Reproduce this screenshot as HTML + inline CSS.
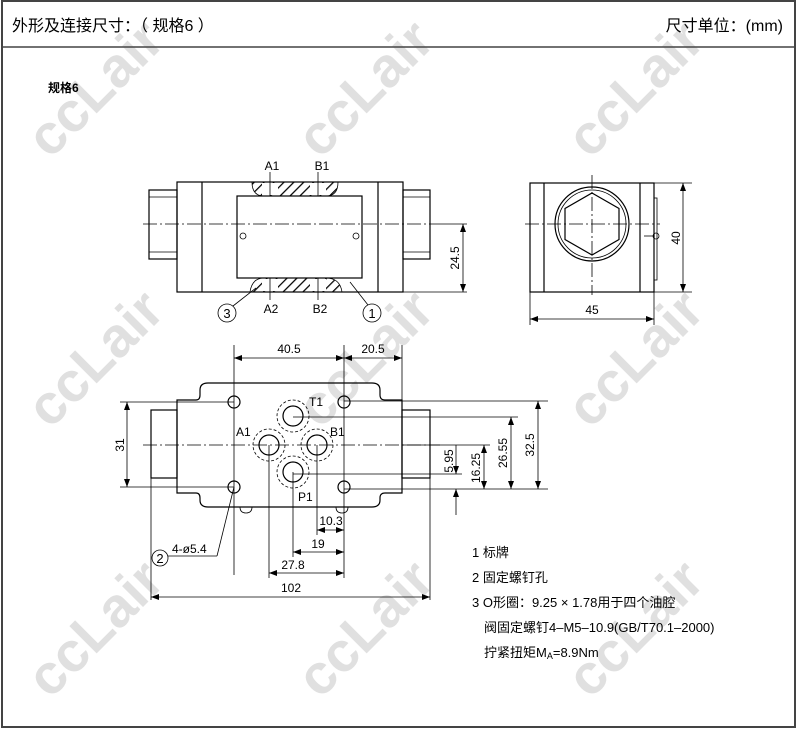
<!DOCTYPE html>
<html><head><meta charset="utf-8"><style>
body{margin:0;background:#fff;}
svg{display:block;}
text{font-family:"Liberation Sans","Noto Sans CJK SC",sans-serif;}
.wm{font-family:"Liberation Sans",sans-serif;font-weight:bold;font-size:56px;fill:#e0e0e0;}
.l{stroke:#000;stroke-width:1.2;fill:none;}
.t{stroke:#000;stroke-width:0.8;fill:none;}
.c{stroke:#000;stroke-width:0.8;fill:none;stroke-dasharray:14 3 2 3;}
.d{stroke:#000;stroke-width:0.8;fill:none;stroke-dasharray:3 2;}
.n{font-family:"Liberation Sans Narrow","Liberation Sans",sans-serif;font-size:12px;}
</style></head><body>
<svg width="800" height="730" viewBox="0 0 800 730" xmlns="http://www.w3.org/2000/svg">
<defs>
<marker id="a" markerWidth="8" markerHeight="6" refX="8" refY="3" orient="auto-start-reverse" markerUnits="userSpaceOnUse"><path d="M0,0 L8,3 L0,6 z" fill="#000"/></marker>
<pattern id="h" width="7" height="7" patternUnits="userSpaceOnUse" patternTransform="rotate(45)"><line x1="0" y1="0" x2="0" y2="7" stroke="#000" stroke-width="2.5"/></pattern>
</defs>
<g class="wm">
<text transform="translate(50,160) rotate(-45)">ccLair</text>
<text transform="translate(320,160) rotate(-45)">ccLair</text>
<text transform="translate(590,160) rotate(-45)">ccLair</text>
<text transform="translate(50,430) rotate(-45)">ccLair</text>
<text transform="translate(320,430) rotate(-45)">ccLair</text>
<text transform="translate(590,430) rotate(-45)">ccLair</text>
<text transform="translate(50,700) rotate(-45)">ccLair</text>
<text transform="translate(320,700) rotate(-45)">ccLair</text>
<text transform="translate(590,700) rotate(-45)">ccLair</text>
</g>
<rect x="2" y="1" width="793" height="726" fill="none" stroke="#444" stroke-width="2"/>
<line x1="2" y1="47" x2="795" y2="47" stroke="#444" stroke-width="1.5"/>
<text x="12" y="31" font-size="16">外形及连接尺寸：（ 规格6 ）</text>
<text x="783" y="31" font-size="16" text-anchor="end">尺寸单位：(mm)</text>
<text x="48" y="92" font-size="12" font-weight="bold">规格6</text>

<!-- TOP VIEW -->
<rect x="149" y="190" width="28" height="69" class="l"/>
<line x1="149" y1="197" x2="177" y2="197" class="t"/><line x1="149" y1="252" x2="177" y2="252" class="t"/>
<rect x="403" y="190" width="27" height="69" class="l"/>
<line x1="403" y1="197" x2="430" y2="197" class="t"/><line x1="403" y1="252" x2="430" y2="252" class="t"/>
<rect x="177" y="182" width="226" height="110" class="l"/>
<line x1="202" y1="182" x2="202" y2="292" class="l"/>
<line x1="378" y1="182" x2="378" y2="292" class="l"/>
<path d="M252,182 Q252,196 264,196 L326,196 Q338,196 338,182 Z" style="fill:url(#h);stroke:#000;stroke-width:0.8"/>
<rect x="262" y="183" width="16" height="12" fill="#fff"/>
<rect x="310" y="183" width="16" height="12" fill="#fff"/>
<path d="M250,292 Q252,278 264,278 L326,278 Q340,278 342,292 Z" style="fill:url(#h);stroke:#000;stroke-width:0.8"/>
<rect x="262" y="279" width="16" height="12" fill="#fff"/>
<rect x="310" y="279" width="16" height="12" fill="#fff"/>
<rect x="237" y="196" width="125" height="82" fill="#fff" stroke="#000" stroke-width="1.2"/>
<circle cx="243" cy="236" r="3" class="t"/><circle cx="356" cy="236" r="3" class="t"/>
<line x1="143" y1="224" x2="440" y2="224" class="c"/>
<line x1="270" y1="172" x2="270" y2="196" class="t"/><line x1="318" y1="172" x2="318" y2="196" class="t"/>
<line x1="270" y1="278" x2="270" y2="300" class="t"/><line x1="318" y1="278" x2="318" y2="300" class="t"/>
<text x="272" y="170" class="n" text-anchor="middle">A1</text>
<text x="322" y="170" class="n" text-anchor="middle">B1</text>
<text x="271" y="313" class="n" text-anchor="middle">A2</text>
<text x="320" y="313" class="n" text-anchor="middle">B2</text>
<line x1="440" y1="224" x2="467" y2="224" class="t"/><line x1="403" y1="292" x2="467" y2="292" class="t"/>
<line x1="463" y1="224" x2="463" y2="292" class="t" marker-start="url(#a)" marker-end="url(#a)"/>
<text transform="translate(459,258) rotate(-90)" class="n" text-anchor="middle">24.5</text>
<circle cx="227" cy="313" r="9" class="t"/><text x="227" y="318" font-size="13" text-anchor="middle">3</text>
<line x1="233" y1="306" x2="256" y2="288" class="t"/>
<circle cx="372" cy="313" r="9" class="t"/><text x="372" y="318" font-size="13" text-anchor="middle">1</text>
<line x1="368" y1="305" x2="350" y2="282" class="t"/>

<!-- SIDE VIEW -->
<rect x="530" y="183" width="124" height="109" class="l"/>
<line x1="544" y1="183" x2="544" y2="292" class="l"/><line x1="640" y1="183" x2="640" y2="292" class="l"/>
<circle cx="592" cy="224" r="37" class="l"/><circle cx="592" cy="224" r="34" class="t"/>
<polygon points="592,193 619,208.5 619,239.5 592,255 565,239.5 565,208.5" class="l"/>
<line x1="592" y1="175" x2="592" y2="295" class="c"/>
<line x1="525" y1="224" x2="660" y2="224" class="c"/>
<rect x="654" y="198" width="3" height="82" class="t"/>
<circle cx="656" cy="236" r="3" class="t"/>
<line x1="644" y1="236" x2="654" y2="236" class="t"/>
<line x1="654" y1="183" x2="692" y2="183" class="t"/><line x1="654" y1="292" x2="692" y2="292" class="t"/>
<line x1="683" y1="183" x2="683" y2="292" class="t" marker-start="url(#a)" marker-end="url(#a)"/>
<text transform="translate(680,238) rotate(-90)" class="n" font-size="14" text-anchor="middle">40</text>
<line x1="530" y1="292" x2="530" y2="325" class="t"/><line x1="654" y1="292" x2="654" y2="325" class="t"/>
<line x1="530" y1="319" x2="654" y2="319" class="t" marker-start="url(#a)" marker-end="url(#a)"/>
<text x="592" y="314" class="n" font-size="14" text-anchor="middle">45</text>

<!-- BOTTOM VIEW -->
<rect x="151" y="410" width="26" height="68" class="l"/>
<rect x="402" y="410" width="28" height="68" class="l"/>
<path d="M177,400 L196,400 Q200,400 200,395 L200,390 Q200,383 208,383 L372,383 Q380,383 380,390 L380,395 Q380,400 385,400 L402,400 L402,493 L385,493 Q380,493 380,498 L380,500 Q380,507 372,507 L208,507 Q200,507 200,500 L200,498 Q200,493 196,493 L177,493 Z" class="l"/>
<path d="M240,507 Q240,513 246,513 Q252,513 252,507" class="t"/>
<path d="M336,507 Q336,513 342,513 Q348,513 348,507" class="t"/>
<line x1="143" y1="445" x2="440" y2="445" class="c"/>
<g class="l">
<circle cx="234" cy="402" r="6"/><circle cx="344" cy="402" r="6"/>
<circle cx="234" cy="487" r="6"/><circle cx="344" cy="487" r="6"/>
<circle cx="293" cy="416" r="10"/><circle cx="269" cy="445" r="10"/>
<circle cx="317" cy="445" r="10"/><circle cx="293" cy="472" r="10"/>
</g>
<g class="d">
<circle cx="293" cy="416" r="16"/><circle cx="269" cy="445" r="16"/>
<circle cx="317" cy="445" r="16"/><circle cx="293" cy="472" r="16"/>
</g>
<text x="309" y="406" class="n" font-size="14">T1</text>
<text x="236" y="436" class="n" font-size="14">A1</text>
<text x="330" y="436" class="n" font-size="14">B1</text>
<text x="298" y="501" class="n" font-size="14">P1</text>
<line x1="234" y1="345" x2="234" y2="575" class="t"/>
<line x1="344" y1="345" x2="344" y2="578" class="t"/>
<line x1="402" y1="345" x2="402" y2="400" class="t"/>
<line x1="234" y1="358" x2="344" y2="358" class="t" marker-start="url(#a)" marker-end="url(#a)"/>
<line x1="344" y1="358" x2="402" y2="358" class="t" marker-start="url(#a)" marker-end="url(#a)"/>
<text x="289" y="353" class="n" text-anchor="middle">40.5</text>
<text x="373" y="353" class="n" text-anchor="middle">20.5</text>
<line x1="120" y1="402" x2="234" y2="402" class="t"/><line x1="120" y1="487" x2="234" y2="487" class="t"/>
<line x1="127" y1="402" x2="127" y2="487" class="t" marker-start="url(#a)" marker-end="url(#a)"/>
<text transform="translate(124,445) rotate(-90)" class="n" font-size="14" text-anchor="middle">31</text>
<line x1="344" y1="401" x2="548" y2="401" class="t"/>
<line x1="293" y1="417" x2="518" y2="417" class="t"/>
<line x1="402" y1="445" x2="490" y2="445" class="t"/>
<line x1="293" y1="474" x2="462" y2="474" class="t"/>
<line x1="344" y1="489" x2="548" y2="489" class="t"/>
<line x1="538" y1="401" x2="538" y2="489" class="t" marker-start="url(#a)" marker-end="url(#a)"/>
<line x1="511" y1="417" x2="511" y2="489" class="t" marker-start="url(#a)" marker-end="url(#a)"/>
<line x1="484" y1="445" x2="484" y2="489" class="t" marker-start="url(#a)" marker-end="url(#a)"/>
<line x1="456" y1="445" x2="456" y2="474" class="t" marker-end="url(#a)"/>
<line x1="456" y1="515" x2="456" y2="489" class="t" marker-end="url(#a)"/>
<text transform="translate(453,461) rotate(-90)" class="n" font-size="10" text-anchor="middle">5.95</text>
<text transform="translate(480,468) rotate(-90)" class="n" font-size="11" text-anchor="middle">16.25</text>
<text transform="translate(507,453) rotate(-90)" class="n" font-size="12" text-anchor="middle">26.55</text>
<text transform="translate(534,445) rotate(-90)" class="n" font-size="12" text-anchor="middle">32.5</text>
<line x1="317" y1="445" x2="317" y2="535" class="t"/>
<line x1="293" y1="472" x2="293" y2="557" class="t"/>
<line x1="269" y1="445" x2="269" y2="578" class="t"/>
<line x1="151" y1="478" x2="151" y2="600" class="t"/>
<line x1="430" y1="478" x2="430" y2="600" class="t"/>
<line x1="317" y1="530" x2="344" y2="530" class="t" marker-start="url(#a)" marker-end="url(#a)"/>
<text x="331" y="525" class="n" font-size="11" text-anchor="middle">10.3</text>
<line x1="293" y1="552" x2="344" y2="552" class="t" marker-start="url(#a)" marker-end="url(#a)"/>
<text x="318" y="548" class="n" font-size="11" text-anchor="middle">19</text>
<line x1="269" y1="573" x2="344" y2="573" class="t" marker-start="url(#a)" marker-end="url(#a)"/>
<text x="293" y="569" class="n" font-size="11" text-anchor="middle">27.8</text>
<line x1="151" y1="597" x2="430" y2="597" class="t" marker-start="url(#a)" marker-end="url(#a)"/>
<text x="291" y="592" class="n" font-size="11" text-anchor="middle">102</text>
<circle cx="160" cy="558" r="8" class="t"/><text x="160" y="563" font-size="13" text-anchor="middle">2</text>
<line x1="168" y1="556" x2="217" y2="556" class="t"/>
<line x1="217" y1="556" x2="234" y2="487" class="t"/>
<text x="172" y="553" class="n" font-size="13">4-ø5.4</text>

<g font-size="13">
<text x="472" y="557">1  标牌</text>
<text x="472" y="582">2  固定螺钉孔</text>
<text x="472" y="607">3  O形圈：9.25 × 1.78用于四个油腔</text>
<text x="484" y="632">阀固定螺钉4–M5–10.9(GB/T70.1–2000)</text>
<text x="484" y="657">拧紧扭矩M<tspan font-size="9" dy="2">A</tspan><tspan dy="-2">=8.9Nm</tspan></text>
</g>
</svg>
</body></html>
